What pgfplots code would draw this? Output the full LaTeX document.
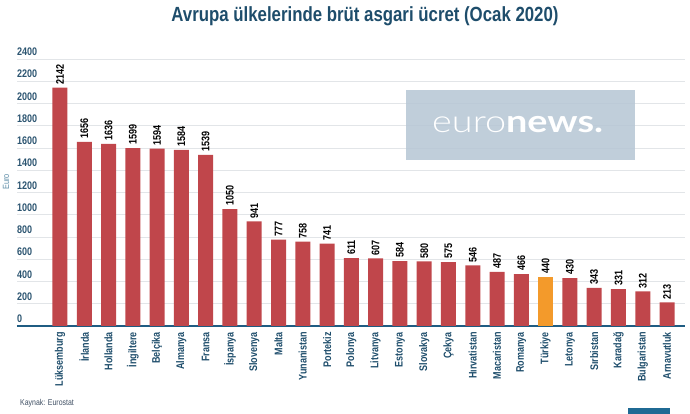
\documentclass[border=0pt]{standalone}
\usepackage{pgfplots}
\pgfplotsset{compat=1.18}
\usepackage{fontspec}
\setmainfont{Liberation Sans}[FakeStretch=0.82]
\newfontfamily\logolight{Lato Light}[FakeStretch=1.22]
\newfontfamily\logobold{Lato}[FakeStretch=1.22]

\definecolor{barred}{HTML}{C0464B}
\definecolor{barorange}{HTML}{F39A2B}
\definecolor{titleblue}{HTML}{1E4D6B}
\definecolor{ticktext}{HTML}{2B5470}
\definecolor{axisblue}{HTML}{1F5C82}
\definecolor{gridgrey}{HTML}{E2E5E8}
\definecolor{eurolabel}{HTML}{5B8BA6}
\definecolor{logobg}{HTML}{B7C7D5}
\definecolor{sourcegrey}{HTML}{3F4F63}
\definecolor{cornerblue}{HTML}{1F6A94}

\newcommand{\chartfont}{\bfseries\fontsize{11}{11}\selectfont}

\begin{document}
\begin{tikzpicture}
\begin{axis}[
  at={(17pt,88pt)}, anchor=south west,
  scale only axis, width=668pt, height=267pt,
  xmin=-1.77, xmax=25.74, ymin=0, ymax=2400,
  ybar, bar width=15pt, bar shift=0pt,
  ytick={0,200,...,2400},
  scaled y ticks=false,
  xtick={0,...,25},
  xticklabels={L\"uksemburg, \.Irlanda, Hollanda, \.Ingiltere, Belçika, Almanya, Fransa, \.Ispanya, Slovenya, Malta, Yunanistan, Portekiz, Polonya, Litvanya, Estonya, Slovakya, Çekya, Hırvatistan, Macaristan, Romanya, Türkiye, Letonya, Sırbistan, Karadağ, Bulgaristan, Arnavutluk},
  ymajorgrids, grid style={gridgrey, line width=0.8pt},
  separate axis lines,
  axis x line*=bottom,
  x axis line style={axisblue, line width=1.6pt, -},
  y axis line style={draw=none},
  major tick length=0pt,
  /pgf/number format/assume math mode=true,
  /pgf/number format/1000 sep={},
  yticklabel style={anchor=south west, inner sep=0pt, yshift=3pt, font=\chartfont, text=ticktext},
  xticklabel style={yshift=-6pt, rotate=90, anchor=east, inner sep=0pt, font=\chartfont, text=titleblue},
  ylabel={Euro},
  every axis y label/.style={at={(axis description cs:-0.0165,0.54)}, rotate=90, anchor=center, font=\fontsize{9}{9}\selectfont, text=eurolabel},
  nodes near coords,
  every node near coord/.append style={rotate=90, anchor=west, inner xsep=3pt, inner ysep=0pt, font=\chartfont, text=black},
]
% minimum wages, all countries except Turkey
\addplot[fill=barred, draw=none] coordinates {
  (0,2142) (1,1656) (2,1636) (3,1599) (4,1594) (5,1584) (6,1539)
  (7,1050) (8,941) (9,777) (10,758) (11,741) (12,611) (13,607)
  (14,584) (15,580) (16,575) (17,546) (18,487) (19,466)
  (21,430) (22,343) (23,331) (24,312) (25,213)
};
% Turkey highlighted
\addplot[fill=barorange, draw=none] coordinates {(20,440)};
\end{axis}

% title
\node[anchor=base, font=\bfseries\fontsize{20.5}{20.5}\selectfont, text=titleblue]
  at (365pt,392pt) {Avrupa ülkelerinde brüt asgari ücret (Ocak 2020)};

% broadcaster logo
\fill[logobg, opacity=0.88] (406pt,254pt) rectangle (635pt,324pt);
\node[anchor=base west, inner sep=0pt, text=white, font=\fontsize{31}{31}\selectfont]
  at (432pt,281pt) {{\logolight euro}{\logobold\bfseries news.}};

% source
\node[anchor=base west, inner sep=0pt, text=sourcegrey, font=\fontsize{8.5}{8.5}\selectfont]
  at (20pt,8pt) {Kaynak: Eurostat};

\fill[cornerblue] (628pt,0pt) rectangle (670pt,6pt);

\pgfresetboundingbox
\useasboundingbox (0pt,0pt) rectangle (690pt,414pt);
\end{tikzpicture}
\end{document}
